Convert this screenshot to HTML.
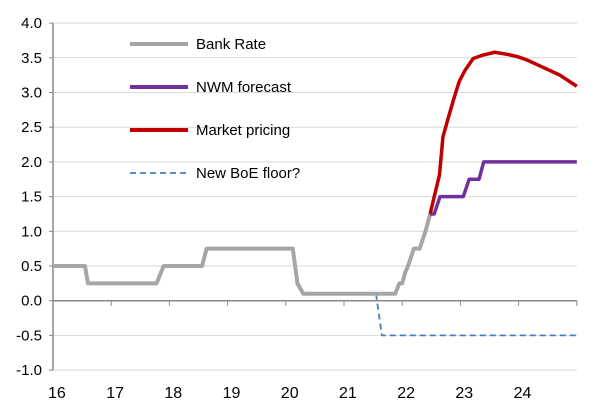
<!DOCTYPE html>
<html><head><meta charset="utf-8"><style>
body{margin:0;background:#fff}
svg{display:block;font-family:"Liberation Sans",Arial,sans-serif}
</style></head><body>
<svg id="chart" width="600" height="411"></svg>
<script>
const yTicks=[-1.0,-0.5,0.0,0.5,1.0,1.5,2.0,2.5,3.0,3.5,4.0];
const xYears=[16,17,18,19,20,21,22,23,24];
const bankX=[16,16.55,16.6,17.78,17.9,18.56,18.64,20.12,20.2,20.3,21.88,21.95,22.0,22.05,22.1,22.2,22.3,22.4,22.48];
const bankY=[0.5,0.5,0.25,0.25,0.5,0.5,0.75,0.75,0.25,0.1,0.1,0.25,0.25,0.4,0.5,0.75,0.75,1.0,1.25];
const nwmX=[22.48,22.55,22.65,23.05,23.15,23.32,23.4,25.0];
const nwmY=[1.25,1.25,1.5,1.5,1.75,1.75,2.0,2.0];
const mktX=[22.48,22.55,22.64,22.70,22.79,22.88,22.98,23.08,23.22,23.39,23.59,23.80,23.97,24.14,24.40,24.71,25.0];
const mktY=[1.25,1.5,1.81,2.36,2.63,2.89,3.16,3.32,3.49,3.54,3.58,3.55,3.52,3.47,3.37,3.25,3.09];
const floorX=[21.55,21.65,25.0];
const floorY=[0.1,-0.5,-0.5];
const legendLabels=["Bank Rate","NWM forecast","Market pricing","New BoE floor?"];

const NS="http://www.w3.org/2000/svg";
const svg=document.getElementById('chart');
const x=v=>53+(v-16)*58.2;
const y=v=>300.7-v*69.4;
function mk(t,a){const e=document.createElementNS(NS,t);for(const k in a)e.setAttribute(k,a[k]);svg.appendChild(e);return e;}
yTicks.forEach(v=>{
  if(v!==0){const g=mk('line',{x1:53,x2:577,y1:y(v),y2:y(v),stroke:'#d9d9d9','stroke-width':1});
  
  }
  const t=mk('text',{x:42,y:y(v)+5,'text-anchor':'end','font-size':15,fill:'#000'});
  t.textContent=v.toFixed(1);
  
  
});
const ya=mk('line',{x1:53,x2:53,y1:y(4),y2:y(-1),stroke:'#888','stroke-width':1.5});


const xa=mk('line',{x1:53,x2:577,y1:y(0),y2:y(0),stroke:'#888','stroke-width':1.5});


yTicks.forEach(v=>{mk('line',{x1:49,x2:53,y1:y(v),y2:y(v),stroke:'#888'});});
xYears.concat([25]).forEach(v=>{
  const tk=mk('line',{x1:x(v),x2:x(v),y1:y(0),y2:y(0)+5,stroke:'#888'});
  
  
});
xYears.forEach(v=>{
  const t=mk('text',{x:x(v)-5,y:398,'font-size':16,fill:'#000'});
  t.textContent=String(v);
  
  
});
function series(xs,ys,color,w,dash,name){
  const pts=xs.map((v,i)=>x(v)+','+y(ys[i])).join(' ');
  const p=mk('polyline',{points:pts,fill:'none',stroke:color,'stroke-width':w,'stroke-linejoin':'round'});
  if(dash)p.setAttribute('stroke-dasharray',dash);
  
  
}
series(floorX,floorY,'#4a7ebb',1.8,'6,4','boe-floor-line');
series(bankX,bankY,'#a6a6a6',4,null,'bank-rate-line');
series(nwmX,nwmY,'#7030a0',3.5,null,'nwm-forecast-line');
series(mktX,mktY,'#c00000',3.5,null,'market-pricing-line');
const legColors=['#a6a6a6','#7030a0','#c00000','#4a7ebb'];
legendLabels.forEach((l,i)=>{
  const ly=44+i*43;
  const ln=mk('line',{x1:130,x2:188,y1:ly,y2:ly,stroke:legColors[i],'stroke-width':i==3?1.8:4});
  if(i==3)ln.setAttribute('stroke-dasharray','6,4');
  
  
  const t=mk('text',{x:196,y:ly+5,'font-size':15,fill:'#000'});
  t.textContent=l;
  
  
});
</script>
</body></html>
